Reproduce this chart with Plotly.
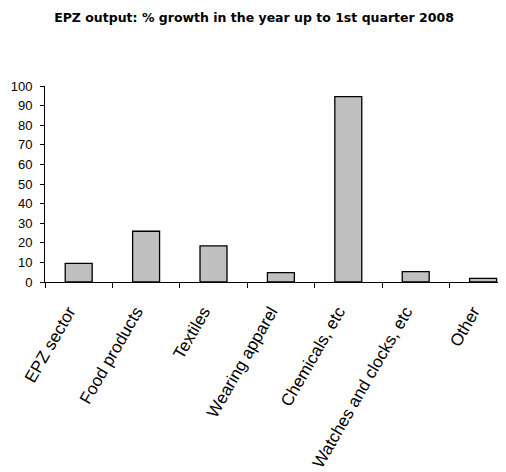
import plotly.graph_objects as go

categories = ["EPZ sector", "Food products", "Textiles", "Wearing apparel",
              "Chemicals, etc", "Watches and clocks, etc", "Other"]
growth = [9.5, 25.9, 18.4, 4.8, 94.6, 5.3, 1.9]
y_ticks = [0, 10, 20, 30, 40, 50, 60, 70, 80, 90, 100]

FONT = "Liberation Sans, Arial, sans-serif"
TITLE_FONT = "DejaVu Sans, Verdana, sans-serif"

# page body has an 8px default margin; size the figure so the window matches
W, H = 498, 464

fig = go.Figure(go.Bar(
    x=categories, y=growth,
    marker=dict(color="#C0C0C0", line=dict(color="black", width=1.3)),
    width=0.4,
))

fig.update_layout(
    width=W, height=H,
    margin=dict(l=37, r=0, t=78, b=190, autoexpand=False),
    paper_bgcolor="white", plot_bgcolor="white",
    showlegend=False,
    title=dict(text="<b>EPZ output: % growth in the year up to 1st quarter 2008</b>",
               x=246 / W, xanchor="center", xref="container",
               y=1 - 10 / H, yanchor="middle", yref="container",
               font=dict(family=TITLE_FONT, size=12.5, color="black")),
    font=dict(family=FONT, color="black"),
)

fig.update_xaxes(
    range=[-0.5, -0.5 + 461 / 67.4],
    tickson="boundaries", ticks="outside", ticklen=5, tickcolor="black", tickwidth=1,
    showline=True, linecolor="black", linewidth=1,
    showgrid=False, tickangle=-60, automargin=False,
    ticklabelstandoff=12, ticklabelshift=-10,
    tickfont=dict(family=FONT, size=17, color="black"),
)
fig.update_yaxes(
    range=[0, 100], tickvals=y_ticks,
    ticks="outside", ticklen=4, tickcolor="black", tickwidth=1,
    showline=True, linecolor="black", linewidth=1,
    showgrid=False, zeroline=False, automargin=False, ticklabelstandoff=5,
    tickfont=dict(family=FONT, size=13, color="black"),
)

fig.write_html("out.html")
